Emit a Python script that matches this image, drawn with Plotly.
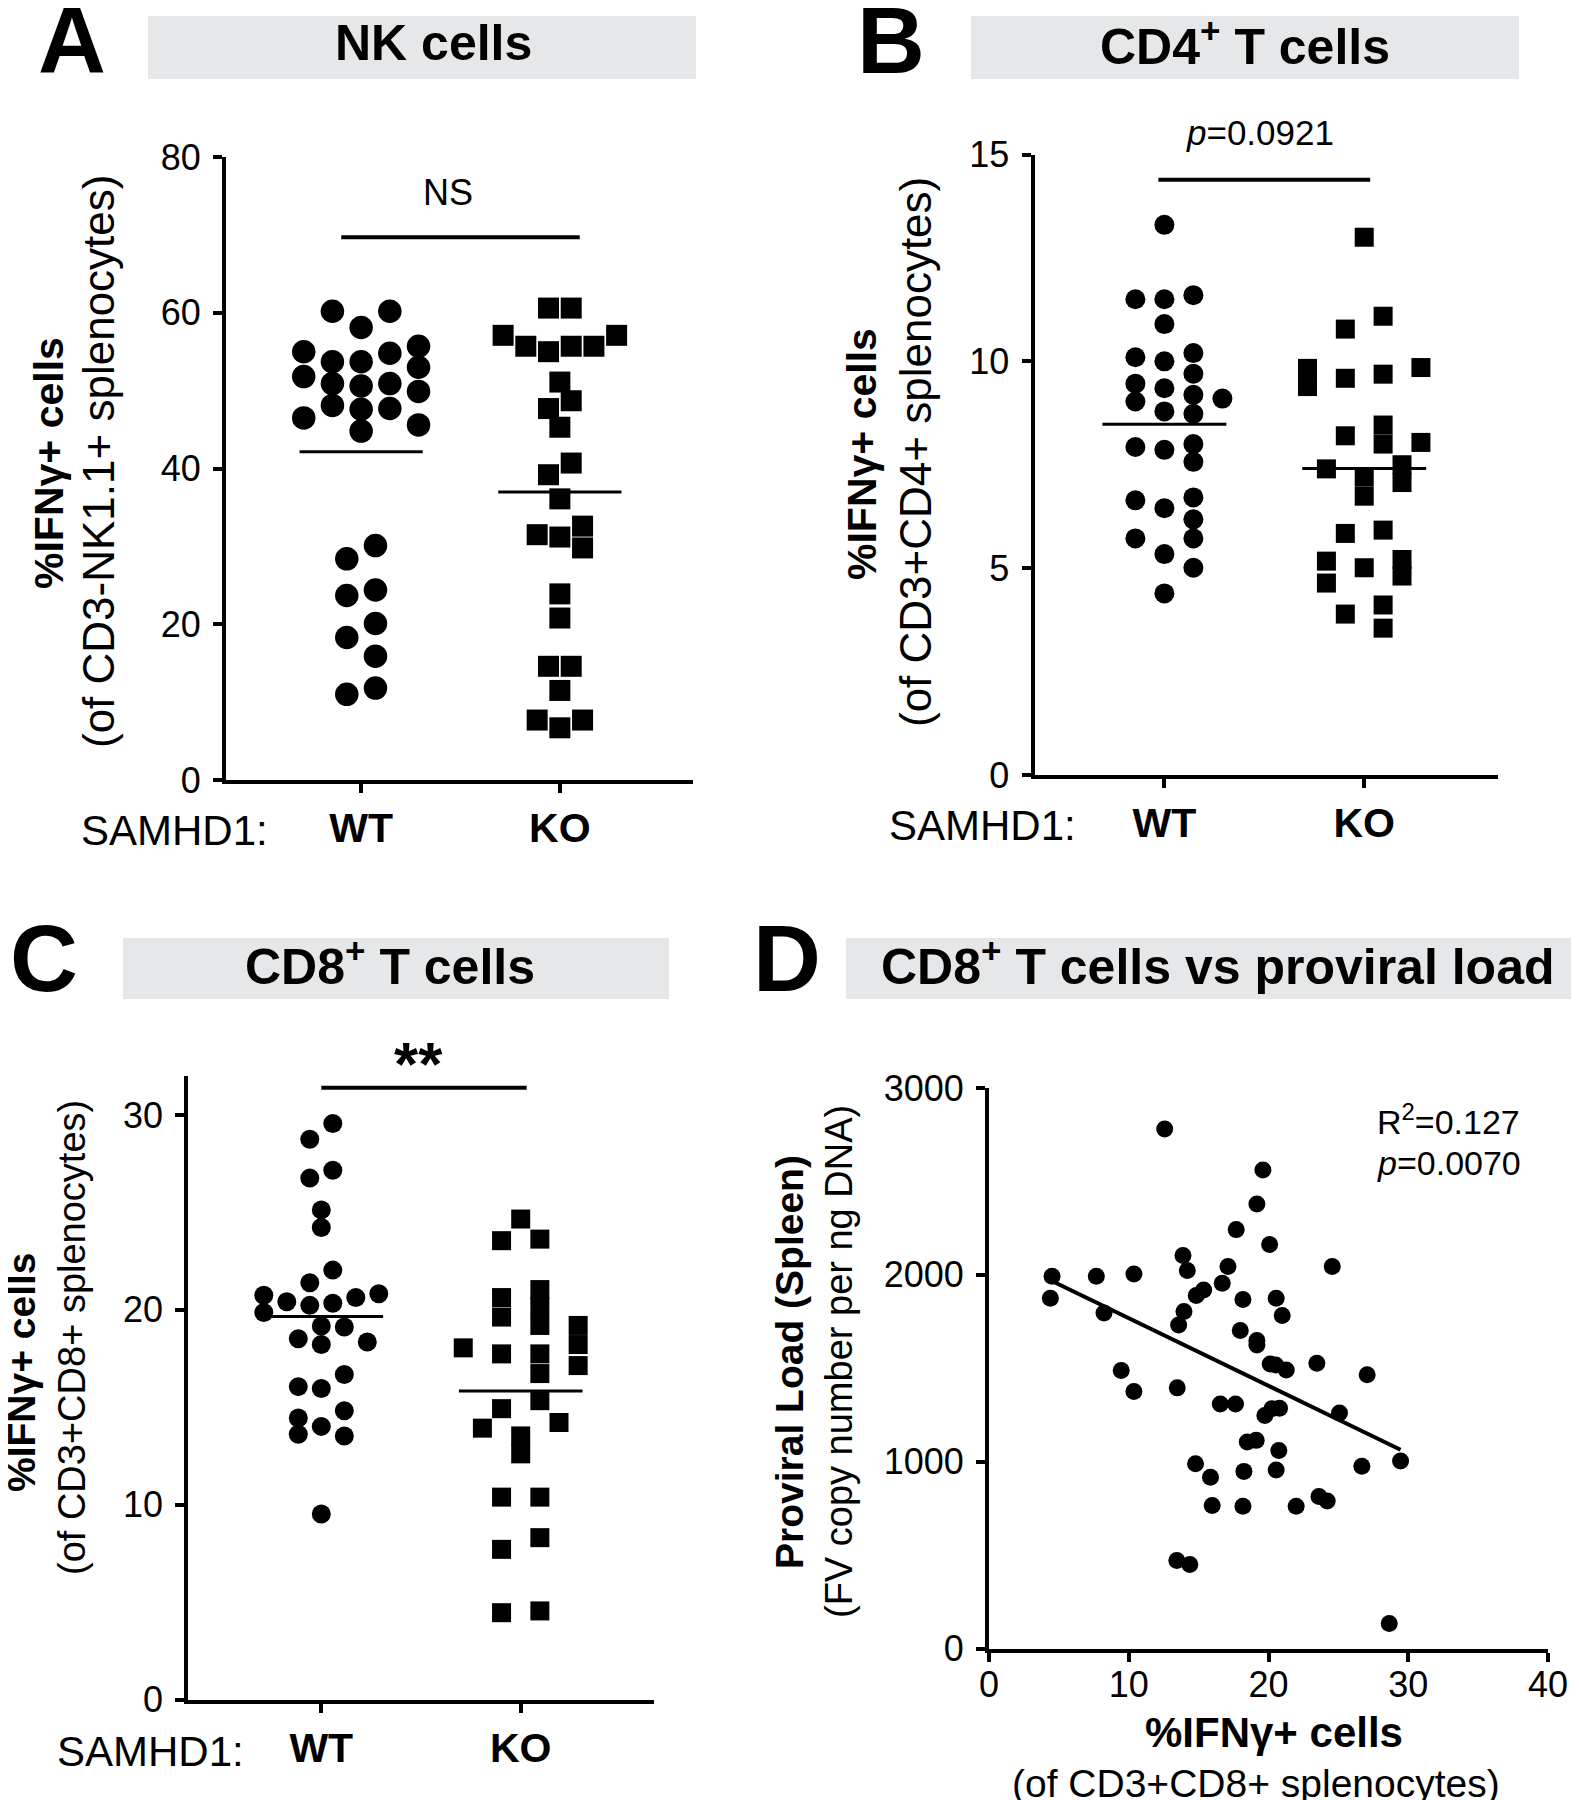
import numpy as np
import plotly.graph_objects as go

# ---------------- data ----------------
groups = ["WT", "KO"]
group_ticktext = ["<b>WT</b>", "<b>KO</b>"]

# Panel A: NK cells, %IFNg+ of CD3-NK1.1+ splenocytes
nk_wt = [60.2, 60.2, 58.1, 55.7, 55.0, 54.8, 53.0, 53.7, 53.7, 50.6, 51.8, 50.9, 50.9,
         49.9, 47.6, 47.7, 48.1, 46.5, 44.8, 45.6, 30.1, 28.4, 24.4, 23.7, 20.1, 18.3,
         15.9, 11.0, 11.8]
nk_ko = [60.6, 60.6, 57.1, 57.1, 55.7, 55.7, 55.7, 55.0, 51.1, 48.7, 47.7, 45.3, 40.7,
         39.2, 36.1, 32.6, 31.5, 31.2, 29.8, 23.9, 20.8, 14.6, 14.6, 11.5, 6.7, 7.7, 7.7]

# Panel B: CD4+ T cells
cd4_wt = [13.3, 11.5, 11.6, 11.5, 10.9, 10.1, 10.2, 10.0, 9.7, 9.46, 9.35, 9.19, 9.1,
          9.03, 8.79, 8.73, 7.86, 7.93, 8.0, 7.57, 6.64, 6.71, 6.45, 6.18, 5.72, 5.72,
          5.34, 5.01, 4.39]
cd4_ko = [13.0, 11.09, 10.78, 9.59, 9.83, 9.39, 9.85, 9.69, 8.46, 8.0, 8.04, 8.2, 7.4,
          7.5, 7.07, 7.2, 6.74, 5.92, 5.84, 5.01, 5.17, 5.21, 4.81, 4.64, 4.11, 3.89, 3.55]

# Panel C: CD8+ T cells
cd8_wt = [29.56, 28.75, 27.16, 26.76, 25.13, 24.23, 22.04, 21.39, 20.42, 20.83, 20.63,
          20.75, 20.23, 20.34, 19.86, 19.17, 19.12, 18.52, 18.22, 18.35, 16.68, 15.96,
          16.06, 14.82, 14.45, 13.62, 14.02, 13.53, 9.52]
cd8_ko = [24.66, 23.63, 23.55, 21.04, 20.15, 20.63, 19.63, 19.2, 19.2, 18.05, 18.22,
          17.74, 17.74, 17.14, 16.73, 15.34, 14.22, 14.93, 13.93, 13.53, 12.61, 10.39,
          10.39, 8.31, 7.71, 4.46, 4.55]

# Panel D: %IFNg+ CD8+ cells vs proviral load (spleen)
prov_ifng = [12.57, 19.6, 19.17, 17.69, 20.08, 24.56, 13.88, 14.19, 17.10, 4.51, 7.68,
             10.37, 4.39, 8.23, 14.83, 15.36, 16.69, 18.17, 20.55, 20.98, 13.95, 13.57,
             17.98, 19.17, 19.17, 20.12, 20.51, 21.27, 23.46, 27.06, 9.46, 10.37, 13.47,
             16.55, 17.64, 19.74, 20.24, 20.79, 25.08, 18.48, 19.12, 20.74, 14.78, 15.85,
             18.24, 20.55, 26.68, 29.45, 15.97, 18.17, 21.98, 23.61, 24.2, 13.44, 14.37,
             28.64]
prov_load = [2780, 2561, 2379, 2242, 2162, 2044, 2103, 2023, 2044, 1993, 1993, 2005, 1875,
             1796, 1889, 1919, 1955, 1868, 1875, 1782, 1804, 1732, 1702, 1649, 1625, 1523,
             1518, 1491, 1527, 1465, 1488, 1376, 1395, 1309, 1309, 1247, 1283, 1286, 1260,
             1105, 1114, 1060, 989, 917, 948, 956, 975, 1003, 766, 761, 761, 814, 789, 471,
             449, 134]

# ---------------- layout helpers ----------------
W, H = 1579, 1800
FONT = "Arial, Liberation Sans, sans-serif"


def fx(p):
    return p / W


def fy(p):
    return 1 - p / H


geo = {
    "A": dict(x=(218, 685), y=(149, 772), xr=[-0.68, 1.67], yr=[0, 80], dtick=20),
    "B": dict(x=(1026.5, 1489.5), y=(146.5, 767), xr=[-0.65, 1.667], yr=[0, 15], dtick=5),
    "C": dict(x=(180.3, 646.3), y=(1068, 1691.6), xr=[-0.667, 1.67], yr=[0, 32], dtick=10),
    "D": dict(x=(981, 1540), y=(1080, 1640.5), xr=[0, 40], yr=[0, 3000], dtick=1000),
}


def scale(g):
    ppx = (g["x"][1] - g["x"][0]) / (g["xr"][1] - g["xr"][0])
    ppy = (g["y"][1] - g["y"][0]) / (g["yr"][1] - g["yr"][0])
    return ppx, ppy


def swarm(values, ppx, ppy, step, size):
    """Prism-like row swarm; returns horizontal offsets in axis units."""
    n = len(values)
    order = sorted(range(n), key=lambda i: -values[i])
    rows = []
    for i in order:
        if rows and (values[rows[-1][0]] - values[i]) * ppy < 0.85 * size:
            rows[-1].append(i)
        else:
            rows.append([i])
    placed = []
    offs = {}
    thr = 0.85 * size

    def free(c, yv):
        return all(abs(c - a) >= 0.95 or abs(yv - b) >= thr for a, b in placed)

    flip = False
    for row in rows:
        asc = sorted(row, key=lambda i: values[i])
        m = len(asc)
        if m % 2:
            base = [0] + [s * k for k in range(1, m) for s in (-1, 1)]
        else:
            base = [s * (k + 0.5) for k in range(m) for s in (-1, 1)]
        base = base[:m]
        done = False
        for sh in (0, 0.5, -0.5, 1, -1):
            pos = [b + sh for b in base]
            if all(free(p, values[i] * ppy) for p, i in zip(pos, asc)):
                for p, i in zip(pos, asc):
                    placed.append((p, values[i] * ppy))
                    offs[i] = p
                done = True
                break
        if not done:
            for i in sorted(row, key=lambda i: -values[i]):
                yv = values[i] * ppy
                cands = [0]
                for k in range(1, 30):
                    cands += [k * 0.5, -k * 0.5] if flip else [-k * 0.5, k * 0.5]
                c = 0
                for c in cands:
                    if free(c, yv):
                        break
                if c != 0:
                    flip = not flip
                placed.append((c, yv))
                offs[i] = c
    return [offs[i] * step / ppx for i in range(n)]


fig = go.Figure()

dot_panels = [
    ("A", "x", "y", nk_wt, nk_ko, dict(wt=(23.5, 28.7), ko=(21, 22.7))),
    ("B", "x2", "y2", cd4_wt, cd4_ko, dict(wt=(20, 29.0), ko=(19, 37.8))),
    ("C", "x3", "y3", cd8_wt, cd8_ko, dict(wt=(19, 23.0), ko=(19, 38.3))),
]

for key, xa, ya, wt, ko, sty in dot_panels:
    ppx, ppy = scale(geo[key])
    for gi, (vals, sym, (sz, step)) in enumerate([(wt, "circle", sty["wt"]), (ko, "square", sty["ko"])]):
        offs = swarm(vals, ppx, ppy, step, sz)
        fig.add_trace(go.Scatter(
            x=[gi + o for o in offs], y=vals, mode="markers", xaxis=xa, yaxis=ya,
            marker=dict(symbol=sym, size=sz, color="black", line=dict(width=0)),
            showlegend=False, hoverinfo="skip", cliponaxis=False))
        m = float(np.mean(vals))
        fig.add_trace(go.Scatter(
            x=[gi - 0.31, gi + 0.31], y=[m, m], mode="lines", xaxis=xa, yaxis=ya,
            line=dict(color="black", width=3), showlegend=False, hoverinfo="skip"))

# Panel D scatter + regression line
fig.add_trace(go.Scatter(
    x=prov_ifng, y=prov_load, mode="markers", xaxis="x4", yaxis="y4",
    marker=dict(symbol="circle", size=17, color="black", line=dict(width=0)),
    showlegend=False, hoverinfo="skip", cliponaxis=False))
slope, icpt = np.polyfit(prov_ifng, prov_load, 1)
xl = np.array([min(prov_ifng), max(prov_ifng)])
fig.add_trace(go.Scatter(
    x=xl, y=slope * xl + icpt, mode="lines", xaxis="x4", yaxis="y4",
    line=dict(color="black", width=4), showlegend=False, hoverinfo="skip"))

# ---------------- axes ----------------
axis_common = dict(showline=True, linecolor="black", linewidth=4, ticks="outside",
                   ticklen=9, tickwidth=4, tickcolor="black", showgrid=False,
                   zeroline=False, automargin=False, fixedrange=True)

layout_axes = {}
names = {"A": ("xaxis", "yaxis", "x", "y"), "B": ("xaxis2", "yaxis2", "x2", "y2"),
         "C": ("xaxis3", "yaxis3", "x3", "y3"), "D": ("xaxis4", "yaxis4", "x4", "y4")}
for key, (xn, yn, xid, yid) in names.items():
    g = geo[key]
    xax = dict(axis_common, domain=[fx(g["x"][0]), fx(g["x"][1])], range=g["xr"], anchor=yid)
    if key == "D":
        xax.update(tickmode="linear", tick0=0, dtick=10, ticklabelstandoff=-8,
                   tickfont=dict(family=FONT, size=36, color="black"))
    else:
        xax.update(tickmode="array", tickvals=[0, 1], ticktext=group_ticktext,
                   ticklabelstandoff=0, tickfont=dict(family=FONT, size=41, color="black"))
    yax = dict(axis_common, domain=[fy(g["y"][1]), fy(g["y"][0])], range=g["yr"], anchor=xid,
               tickmode="linear", tick0=0, dtick=g["dtick"], ticklabelstandoff=5,
               tickfont=dict(family=FONT, size=36, color="black"))
    layout_axes[xn] = xax
    layout_axes[yn] = yax

# ---------------- shapes ----------------
shapes = []
for (x0, y0, x1, y1) in [(140, 8, 688, 71), (963, 8, 1511, 71), (115, 930, 661, 991), (838, 930, 1579, 991)]:
    shapes.append(dict(type="rect", xref="paper", yref="paper", x0=fx(x0), x1=fx(x1),
                       y0=fy(y1), y1=fy(y0), fillcolor="#e6e7e8", line=dict(width=0), layer="below"))
for xr_, yr_, x0, x1, yv in [("x", "y", -0.10, 1.10, 69.7), ("x2", "y2", -0.03, 1.03, 14.39),
                            ("x3", "y3", 0.0, 1.03, 31.4)]:
    shapes.append(dict(type="line", xref=xr_, yref=yr_, x0=x0, x1=x1, y0=yv, y1=yv,
                       line=dict(color="black", width=4)))

# ---------------- annotations ----------------
anns = []


def ann(text, x, y, size, angle=0, xanchor="center", yanchor="middle"):
    anns.append(dict(text=text, x=fx(x), y=fy(y), xref="paper", yref="paper", showarrow=False,
                     textangle=angle, xanchor=xanchor, yanchor=yanchor,
                     font=dict(family=FONT, size=size, color="black")))


# panel letters
for t, xp, yp in [("A", 64, 33), ("B", 883, 32), ("C", 36, 950), ("D", 779, 950)]:
    ann(f"<b>{t}</b>", xp, yp, 94)
# titles
ann("<b>NK cells</b>", 425, 35, 50)
ann("<b>CD4<sup>+</sup> T cells</b>", 1237, 35, 50)
ann("<b>CD8<sup>+</sup> T cells</b>", 382, 955, 50)
ann("<b>CD8<sup>+</sup> T cells vs proviral load</b>", 1210, 955, 50)
# y titles (rotated)
ann("<b>%IFNγ+ cells</b>", 41, 455, 41, angle=-90)
ann("(of CD3-NK1.1+ splenocytes)", 90, 454, 44, angle=-90)
ann("<b>%IFNγ+ cells</b>", 854, 446, 41, angle=-90)
ann("(of CD3+CD4+ splenocytes)", 907, 444, 44, angle=-90)
ann("<b>%IFNγ+ cells</b>", 13, 1364, 39, angle=-90)
ann("(of CD3+CD8+ splenocytes)", 64, 1330, 38, angle=-90)
ann("<b>Proviral Load (Spleen)</b>", 781, 1354, 39, angle=-90)
ann("(FV copy number per ng DNA)", 831, 1354, 38, angle=-90)
# D x title
ann("<b>%IFNγ+ cells</b>", 1266, 1724, 42)
ann("(of CD3+CD8+ splenocytes)", 1248, 1775, 39)
# SAMHD1 labels
ann("SAMHD1:", 262, 822, 42, xanchor="right")
ann("SAMHD1:", 1070, 817, 42, xanchor="right")
ann("SAMHD1:", 238, 1743, 42, xanchor="right")
# significance labels
ann("NS", 440, 184, 36)
ann("<i>p</i>=0.0921", 1252, 124, 35)
ann("<b>**</b>", 410, 1055, 62)
# regression stats
ann("R<sup>2</sup>=0.127", 1367, 1111, 34, xanchor="left")
ann("<i>p</i>=0.0070", 1367, 1155, 34, xanchor="left")

fig.update_layout(
    template="none", width=W, height=H, margin=dict(l=0, r=0, t=0, b=0),
    paper_bgcolor="white", plot_bgcolor="white", showlegend=False,
    font=dict(family=FONT, color="black"),
    shapes=shapes, annotations=anns, **layout_axes)

fig.write_html("out.html")
